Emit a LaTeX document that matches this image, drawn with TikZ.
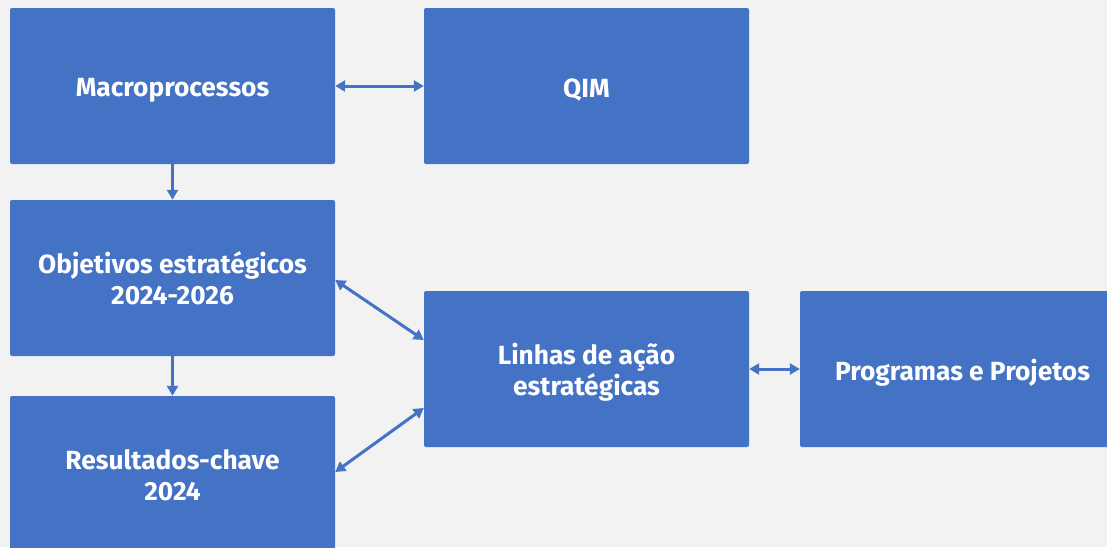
\documentclass[tikz,border=0pt]{standalone}
\usepackage{fontspec}
\setmainfont{Fira Sans}
\usetikzlibrary{arrows.meta,calc}
\definecolor{boxblue}{HTML}{4472C4}
\definecolor{bggray}{HTML}{F2F2F2}
\newcommand\onel[1]{\raisebox{-4pt}[\height][\depth]{#1}}
\newcommand\twol[2]{\raisebox{-5pt}[\height][\depth]{\begin{tabular}{@{}c@{}}#1\\#2\end{tabular}}}
\begin{document}
\begin{tikzpicture}[x=1pt,y=-1pt,
  blk/.style={draw=none,fill=boxblue,rounded corners=2pt,minimum width=325pt,minimum height=156pt,
    text=white,font=\fontsize{26.3}{31}\selectfont\bfseries,align=center,inner sep=0pt},
  conn/.style={draw=boxblue,line width=3pt,{Triangle[length=10pt,width=11pt]}-{Triangle[length=10pt,width=11pt]}},
  oneway/.style={draw=boxblue,line width=3pt,-{Triangle[length=10pt,width=11pt]}}]
\useasboundingbox (0,0) rectangle (1107,547);
\clip (0,0) rectangle (1107,547);
\fill[bggray] (0,0) rectangle (1107,547);
\node[blk] (mac) at (172.5,86) {\onel{Macroprocessos}};
\node[blk] (qim) at (586.5,86) {\onel{QIM}};
\node[blk] (obj) at (172.5,278) {\twol{Objetivos estratégicos}{2024-2026}};
\node[blk] (res) at (172.5,474) {\twol{Resultados-chave}{2024}};
\node[blk] (lin) at (586.5,369) {\twol{Linhas de ação}{estratégicas}};
\node[blk] (pro) at (962.5,369) {\onel{Programas e Projetos}};
\draw[conn] (mac.east) -- (qim.west);
\draw[oneway] (mac.south) -- (obj.north);
\draw[oneway] (obj.south) -- (res.north);
\draw[conn] ($(obj.east)+(0,2)$) -- ($(lin.west)+(0,-29)$);
\draw[conn] ($(res.east)+(0,-2)$) -- ($(lin.west)+(0,39)$);
\draw[conn] (lin.east) -- (pro.west);
\end{tikzpicture}
\end{document}
